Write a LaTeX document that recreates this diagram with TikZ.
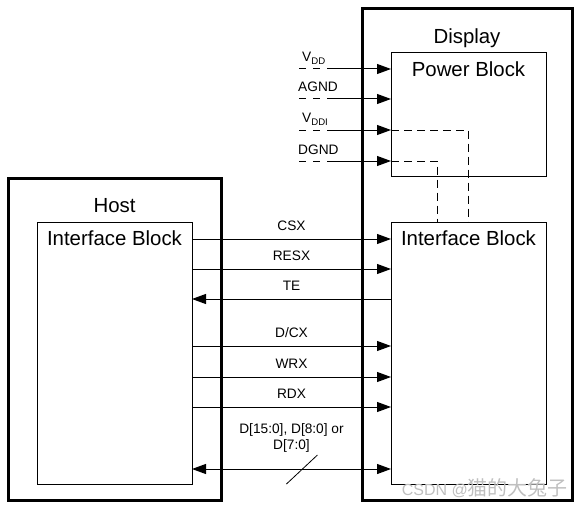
\documentclass[tikz,border=0pt]{standalone}
\usepackage{fontspec}
\setmainfont{Liberation Sans}
\newfontfamily\cjk{Noto Sans CJK SC}
\usetikzlibrary{arrows.meta}

\begin{document}
\begin{tikzpicture}[x=1pt, y=-1pt, >={Triangle[length=14pt,width=10pt]},
    big/.style={font=\fontsize{20.4}{24}\selectfont},
    small/.style={font=\fontsize{13.7}{16}\selectfont},
    frame/.style={draw, line width=3pt, inner sep=0pt, outer sep=0pt},
    block/.style={draw, line width=1pt, inner sep=0pt, outer sep=0pt},
    title/.style={big, inner sep=0pt, anchor=north},
    sig/.style={line width=1pt},
    pdash/.style={line width=1pt, dash pattern=on 7pt off 7pt},
    idash/.style={line width=1pt, dash pattern=on 8pt off 5pt}]
  \useasboundingbox (0,0) rectangle (583,508);
  % ------------------------------------------------------------------ host side
  \node[frame, minimum width=213pt, minimum height=322pt] (host) at (114.5,339) {};
  \node[block, minimum width=155pt, minimum height=262pt] (hostif) at (114.5,353) {};
  \node[title] (hostlab) at ([yshift=-20pt]host.north) {Host};
  \node[title] (hostiflab) at ([yshift=-9pt]hostif.north) {Interface Block};
  % ------------------------------------------------------------------ display side
  \node[frame, minimum width=210pt, minimum height=491pt] (display) at (467,254.5) {};
  \node[block, minimum width=155pt, minimum height=123pt] (power) at (468.5,114.5) {};
  \node[block, minimum width=155pt, minimum height=262pt] (dispif) at (468.5,353) {};
  \node[title] (displab) at ([yshift=-20pt]display.north) {Display};
  \node[title] (powerlab) at ([yshift=-9pt]power.north) {Power Block};
  \node[title] (dispiflab) at ([yshift=-9pt]dispif.north) {Interface Block};
  % ------------------------------------------------------------------ supplies
  \foreach \name/\lab/\yy/\lx in {vdd/V\textsubscript{DD}/69/302, agnd/AGND/99/298,
      vddi/V\textsubscript{DDI}/130/302, dgnd/DGND/161/298} {
    \coordinate (\name) at (299,\yy);
    \node[small, anchor=base west, inner sep=0pt] (\name lab) at (\lx,\yy-7) {\lab};
    \draw[pdash] (\name) -- ++(31,0) coordinate (\name mid);
    \draw[sig,->] (\name mid) -- (power.west |- \name);
  }
  \draw[idash] (power.west |- vddi) -| (dispif.north);
  \draw[idash] (power.west |- dgnd) -| ([xshift=-31pt]dispif.north);
  % ------------------------------------------------------------------ bus signals
  \foreach \yy/\lab/\tip in {239/CSX/->, 269/RESX/->, 299/TE/<-,
      346/D\slash CX/->, 377/WRX/->, 407/RDX/->} {
    \draw[sig, \tip] (hostif.east |- 0,\yy) -- (dispif.west |- 0,\yy)
      node[small, midway, above=8pt, inner sep=0pt] (sig\yy) {\lab};
  }
  \draw[sig, <->] (hostif.east |- 0,469) -- (dispif.west |- 0,469)
    node[small, midway, above=16pt, inner sep=0pt, align=center] (datalab)
      {D[15:0], D[8:0] or\\D[7:0]}
    coordinate[pos=0.55] (dbus);
  \draw[line width=0.8pt] ([shift={(-15,15)}]dbus) -- ([shift={(16,-14)}]dbus);
  % ------------------------------------------------------------------ watermark
  \node[anchor=base east, inner sep=0pt, text=gray!50, font=\fontsize{16}{16}\selectfont]
    (mark) at (568,495) {CSDN @{\cjk\fontsize{20}{20}\selectfont 猫的大兔子}};
\end{tikzpicture}
\end{document}
